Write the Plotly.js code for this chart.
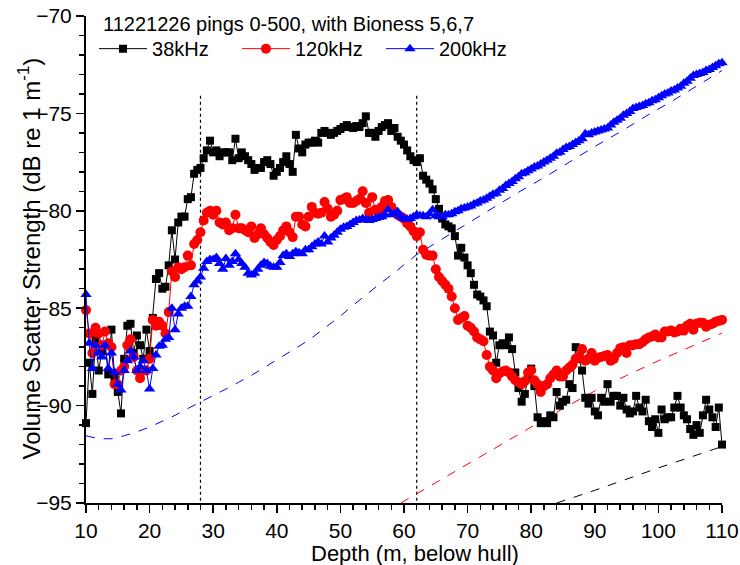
<!DOCTYPE html>
<html>
<head>
<meta charset="utf-8">
<script src="https://cdn.plot.ly/plotly-3.0.1.min.js"></script>
<style>html,body{margin:0;padding:0;background:#fff;}#chart{width:740px;height:565px;}</style>
</head>
<body>
<div id="chart"></div>
<script>
// Depth grid (m, below hull)
const depth = [10,10.5,11,11.5,12,12.5,13,13.5,14,14.5,15,15.5,16,16.5,17,17.5,18,18.5,19,19.5,
20,20.5,21,21.5,22,22.5,23,23.5,24,24.5,25,25.5,26,26.5,27,27.5,28,28.5,29,29.5,
30,30.5,31,31.5,32,32.5,33,33.5,34,34.5,35,35.5,36,36.5,37,37.5,38,38.5,39,39.5,
40,40.5,41,41.5,42,42.5,43,43.5,44,44.5,45,45.5,46,46.5,47,47.5,48,48.5,49,49.5,
50,50.5,51,51.5,52,52.5,53,53.5,54,54.5,55,55.5,56,56.5,57,57.5,58,58.5,59,59.5,
60,60.5,61,61.5,62,62.5,63,63.5,64,64.5,65,65.5,66,66.5,67,67.5,68,68.5,69,69.5,
70,70.5,71,71.5,72,72.5,73,73.5,74,74.5,75,75.5,76,76.5,77,77.5,78,78.5,79,79.5,
80,80.5,81,81.5,82,82.5,83,83.5,84,84.5,85,85.5,86,86.5,87,87.5,88,88.5,89,89.5,
90,90.5,91,91.5,92,92.5,93,93.5,94,94.5,95,95.5,96,96.5,97,97.5,98,98.5,99,99.5,
100,100.5,101,101.5,102,102.5,103,103.5,104,104.5,105,105.5,106,106.5,107,107.5,108,108.5,109,109.5,110];

// 38 kHz Sv (dB re 1 m^-1)
const sv38 = [-90.9,-87.8,-89.4,-86.6,-88.2,-87.2,-86.9,-88.4,-86.1,-88.6,-89.3,-90.4,-87.6,-85.9,-85.8,-87.3,-86.4,-86.9,-87.6,-86.1,
-87.2,-85.5,-83.5,-83.2,-84.0,-83.9,-82.8,-81.0,-82.5,-80.6,-80.3,-80.3,-79.4,-79.3,-78.1,-77.9,-77.8,-77.3,-76.9,-76.4,
-77.0,-76.9,-77.2,-77.0,-77.0,-77.0,-77.4,-76.3,-77.3,-77.0,-77.2,-77.4,-77.6,-77.9,-77.8,-77.8,-77.5,-77.4,-77.6,-78.2,
-78.0,-77.8,-77.5,-77.2,-77.6,-78.0,-76.1,-76.8,-77.0,-76.6,-76.5,-76.5,-76.4,-76.5,-76.0,-75.9,-76.0,-76.1,-76.0,-75.9,
-75.8,-75.7,-75.6,-75.7,-75.75,-75.65,-75.7,-75.5,-75.15,-76.0,-76.0,-76.2,-75.9,-75.7,-75.6,-75.5,-75.9,-75.75,-76.2,-76.4,
-76.6,-76.9,-77.2,-77.4,-77.5,-77.3,-78.2,-78.4,-78.6,-78.9,-79.4,-79.9,-80.4,-80.7,-80.8,-80.9,-81.3,-82.3,-81.9,-82.4,
-82.8,-83.2,-83.8,-84.3,-84.4,-84.6,-84.9,-86.2,-86.4,-87.8,-86.9,-86.8,-86.9,-86.5,-87.1,-88.3,-89.1,-89.8,-89.4,-88.6,
-88.1,-89.0,-90.6,-90.9,-90.8,-90.9,-90.5,-90.6,-89.3,-90.0,-89.8,-89.7,-88.9,-89.1,-87.0,-87.6,-88.2,-89.6,-89.9,-89.6,
-90.3,-90.5,-89.6,-89.8,-88.9,-89.8,-89.5,-89.5,-90.0,-89.6,-90.2,-90.4,-90.3,-89.5,-90.1,-90.3,-89.7,-90.8,-91.1,-90.7,
-91.4,-90.2,-90.7,-90.6,-90.6,-90.1,-89.5,-90.1,-90.5,-90.7,-91.2,-91.5,-91.0,-91.4,-90.5,-89.7,-90.2,-90.6,-91.1,-90.1,-92.0];

// 120 kHz Sv
const sv120 = [-85.1,-86.3,-87.3,-86.0,-86.3,-86.9,-86.2,-86.8,-87.0,-88.9,-88.9,-88.2,-88.0,-86.9,-86.6,-87.5,-88.2,-88.6,-88.2,-88.2,
-87.6,-85.6,-85.9,-85.7,-85.9,-86.3,-85.2,-83.1,-83.4,-82.9,-83.0,-82.9,-82.3,-82.8,-81.7,-81.5,-81.1,-80.5,-80.1,-80.0,
-80.2,-80.0,-80.6,-80.7,-80.6,-81.0,-80.9,-80.2,-80.9,-80.9,-81.0,-81.1,-80.8,-81.4,-81.2,-80.9,-81.2,-81.4,-81.6,-81.75,
-81.5,-81.3,-81.0,-80.8,-81.1,-81.35,-80.3,-80.3,-80.7,-80.8,-80.3,-79.8,-80.1,-80.15,-80.1,-79.55,-79.9,-80.3,-80.2,-80.0,
-79.45,-79.4,-79.3,-79.6,-79.6,-79.5,-79.4,-79.0,-79.6,-80.1,-79.3,-79.95,-80.05,-79.8,-79.5,-79.45,-79.8,-80.05,-80.2,-80.3,
-80.4,-80.65,-80.8,-81.05,-81.3,-81.1,-82.0,-82.25,-82.3,-82.3,-83.0,-83.4,-83.6,-83.8,-84.0,-84.4,-85.0,-85.6,-85.5,-85.4,
-85.9,-86.0,-86.2,-86.5,-86.6,-86.7,-87.4,-88.0,-88.2,-88.6,-88.35,-88.25,-88.2,-88.3,-88.5,-88.7,-88.8,-88.9,-88.75,-88.3,
-88.2,-88.7,-88.9,-89.3,-89.0,-88.9,-88.6,-88.4,-88.2,-88.5,-88.5,-88.2,-88.05,-87.9,-87.6,-87.5,-87.1,-87.7,-87.6,-87.3,
-87.7,-87.55,-87.5,-87.45,-87.4,-87.7,-87.6,-87.3,-87.05,-87.0,-87.3,-86.9,-86.9,-86.85,-86.85,-86.75,-86.6,-86.5,-86.45,-86.35,
-86.5,-86.5,-86.2,-86.2,-86.15,-86.25,-86.2,-86.05,-86.15,-85.9,-85.8,-86.1,-85.8,-85.75,-85.75,-85.95,-85.85,-85.8,-85.7,-85.65,-85.6];

// 200 kHz Sv
const sv200 = [-84.3,-86.8,-88.1,-86.9,-87.3,-87.5,-86.9,-88.1,-87.3,-88.3,-88.9,-89.2,-88.2,-87.7,-87.2,-87.5,-88.2,-88.0,-87.7,-88.2,
-89.15,-88.1,-87.4,-86.95,-86.9,-86.6,-86.5,-85.0,-86.1,-85.3,-85.0,-84.9,-84.9,-84.4,-83.8,-83.6,-83.4,-82.95,-82.6,-82.5,
-82.5,-82.4,-82.7,-83.0,-82.45,-82.8,-82.6,-82.2,-82.5,-82.7,-82.9,-83.2,-83.3,-83.2,-83.0,-82.8,-82.65,-82.7,-82.85,-82.9,
-82.9,-82.65,-82.3,-82.2,-82.35,-82.2,-82.1,-82.15,-82.2,-82.0,-82.0,-81.85,-81.7,-81.6,-81.7,-81.3,-81.6,-81.4,-81.25,-81.1,
-80.95,-80.85,-80.8,-80.7,-80.6,-80.5,-80.47,-80.4,-80.45,-80.5,-80.45,-80.4,-80.35,-80.3,-80.2,-79.95,-80.2,-80.15,-80.05,-80.3,
-80.4,-80.45,-80.4,-80.3,-80.2,-80.25,-80.25,-80.3,-80.15,-79.95,-80.25,-80.3,-80.3,-80.2,-80.2,-80.15,-80.05,-80.0,-79.9,-79.85,
-79.8,-79.75,-79.65,-79.6,-79.5,-79.45,-79.35,-79.25,-79.15,-79.1,-78.95,-78.85,-78.7,-78.6,-78.5,-78.35,-78.25,-78.1,-78.05,-77.95,
-77.85,-77.75,-77.7,-77.6,-77.5,-77.4,-77.3,-77.2,-77.05,-77.0,-76.85,-76.75,-76.7,-76.6,-76.5,-76.4,-76.3,-76.05,-76.1,-76.0,
-75.95,-75.9,-75.85,-75.8,-75.75,-75.6,-75.45,-75.35,-75.25,-75.1,-75.0,-74.9,-74.75,-74.7,-74.65,-74.6,-74.5,-74.45,-74.35,-74.3,
-74.2,-74.1,-74.0,-73.95,-73.85,-73.8,-73.7,-73.6,-73.45,-73.35,-73.2,-73.05,-73.0,-72.95,-72.9,-72.8,-72.75,-72.65,-72.55,-72.45,-72.4];

// Noise floors (dashed)
const noise200Depth = [10,12,14,16,18,20,22,24,26,28,30,32,34,36,38,40,42,44,46,48,50,52,54,56,58,60,62,66,70,74,78,82,86,90,94,98,102,106,110];
const noise200 = [-91.55,-91.7,-91.7,-91.55,-91.35,-91.1,-90.8,-90.5,-90.15,-89.83,-89.5,-89.15,-88.8,-88.45,-88.05,-87.65,-87.25,-86.85,-86.4,-85.9,-85.4,-84.85,-84.3,-83.8,-83.3,-82.75,-82.25,-81.45,-80.65,-79.85,-79.05,-78.3,-77.5,-76.7,-75.95,-75.15,-74.4,-73.6,-72.8];
const noise120Depth = [59.5,65,70,75,80,85,90,95,100,105,110];
const noise120 = [-95.0,-93.95,-93.0,-92.05,-91.1,-90.15,-89.25,-88.45,-87.7,-86.98,-86.28];
const noise38Depth = [84,90,100,110];
const noise38 = [-95.0,-94.35,-93.2,-92.1];

// Layer boundaries (vertical dotted lines)
const boundaryDepths = [28, 62];
const boundaryTop = -74.1;
const boundaryBottom = -95;

const titleText = '11221226 pings 0-500, with Bioness 5,6,7';
const xTitle = 'Depth (m, below hull)';
const yTitle = 'Volume Scatter Strength (dB re 1 m<sup>-1</sup>)';
const seriesNames = ['38kHz', '120kHz', '200kHz'];

const traces = [];
boundaryDepths.forEach(d => {
  traces.push({x:[d,d], y:[boundaryTop,boundaryBottom], mode:'lines', showlegend:false, hoverinfo:'skip',
    line:{color:'#000', width:1.2, dash:'dot'}});
});
traces.push({x:noise200Depth, y:noise200, mode:'lines', showlegend:false, line:{color:'#0000ff', width:1, dash:'dash'}});
traces.push({x:noise120Depth, y:noise120, mode:'lines', showlegend:false, line:{color:'#ff0000', width:1, dash:'dash'}});
traces.push({x:noise38Depth, y:noise38, mode:'lines', showlegend:false, line:{color:'#000', width:1, dash:'dash'}});

traces.push({x:depth, y:sv38, name:seriesNames[0], legend:'legend', mode:'lines+markers', cliponaxis:false,
  line:{color:'#000', width:1}, marker:{symbol:'square', size:8, color:'#000'}});
traces.push({x:depth, y:sv120, name:seriesNames[1], legend:'legend2', mode:'lines+markers', cliponaxis:false,
  line:{color:'#ff0000', width:1}, marker:{symbol:'circle', size:10, color:'#ff0000'}});
traces.push({x:depth, y:sv200, name:seriesNames[2], legend:'legend3', mode:'lines+markers', cliponaxis:false,
  line:{color:'#0000ff', width:1}, marker:{symbol:'triangle-up', size:10, color:'#0000ff'}});

const axisCommon = {
  showline:true, linecolor:'#000', linewidth:2, mirror:false,
  ticks:'outside', ticklen:8, tickwidth:1.5, tickcolor:'#000',
  showgrid:false, zeroline:false, ticklabeloverflow:'allow',
  tickfont:{size:21, color:'#000'}
};

function legendAt(xp) {
  return {
    orientation:'h', x:xp, y:0.973, xanchor:'left', yanchor:'top',
    bgcolor:'rgba(0,0,0,0)', borderwidth:0,
    font:{size:20, color:'#000'}, itemwidth:48
  };
}

const layout = {
  width:740, height:565,
  margin:{l:86, r:18, t:16, b:62},
  paper_bgcolor:'#fff', plot_bgcolor:'#fff',
  font:{family:'"Liberation Sans", Arial, sans-serif', color:'#000'},
  showlegend:true,
  legend:legendAt(0.0126),
  legend2:legendAt(0.2374),
  legend3:legendAt(0.4638),
  annotations:[
    {text:titleText, xref:'paper', yref:'paper', x:0.0235, y:0.984,
     xanchor:'left', yanchor:'middle', showarrow:false, font:{size:20, color:'#000'}},
    {text:xTitle, xref:'paper', yref:'paper', x:0.518, y:-0.103,
     xanchor:'center', yanchor:'middle', showarrow:false, font:{size:22, color:'#000'}},
    {text:yTitle, xref:'paper', yref:'paper', x:-0.0896, y:0.502, textangle:-90,
     xanchor:'center', yanchor:'middle', showarrow:false, font:{size:24, color:'#000'}}
  ],
  xaxis:Object.assign({}, axisCommon, {
    range:[10,110], dtick:10, tick0:10,
    minor:{dtick:2, ticks:'outside', ticklen:5, tickwidth:1.5, tickcolor:'#000', showgrid:false}
  }),
  yaxis:Object.assign({}, axisCommon, {
    range:[-95,-70], dtick:5, tick0:-95,
    minor:{dtick:1, ticks:'outside', ticklen:5, tickwidth:1.5, tickcolor:'#000', showgrid:false}
  })
};

Plotly.newPlot('chart', traces, layout, {displayModeBar:false, staticPlot:true});
</script>
</body>
</html>
